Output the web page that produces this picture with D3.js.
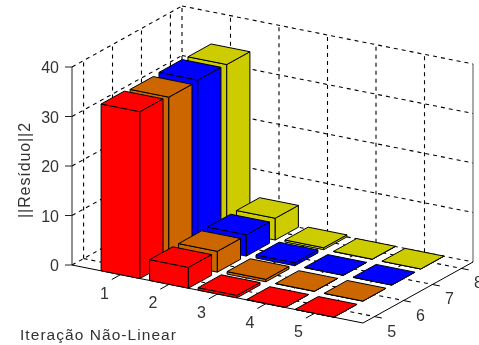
<!DOCTYPE html>
<html>
<head>
<meta charset="utf-8">
<script src="https://cdn.jsdelivr.net/npm/d3@7"></script>
<style>
  html, body { margin: 0; padding: 0; background: #fff; overflow: hidden; }
  svg { filter: blur(0.35px); }
  text { font-family: "Liberation Sans", Arial, sans-serif; fill: #333; }
</style>
</head>
<body>
<div id="chart"></div>
<script>
let iteracoes = [1, 2, 3, 4, 5];
let colunas = [5, 6, 7, 8];
let zTicks = [0, 10, 20, 30, 40];

// one series per row of bars
let serie5 = [33.7, 4.2, 0.5, 0.05, 0.02];
let serie6 = [33.4, 4.2, 0.5, 0.05, 0.02];
let serie7 = [33.6, 4.3, 0.6, 0.05, 0.02];
let serie8 = [33.5, 4.4, 0.4, 0.05, 0.02];
let series = [serie5, serie6, serie7, serie8];
let cores = ['#ff0000', '#cc6600', '#0000ff', '#cccc00'];

let width = 479;
let height = 345;
let barWidth = 0.8;

// oblique view: each data axis adds its own screen offset
let xDomain = [0, 6];
let yDomain = [4.6, 8.4];
let zDomain = [0, 40];

let xToLeft = d3.scaleLinear().domain(xDomain).range([0, 291]);
let xToTop = d3.scaleLinear().domain(xDomain).range([0, 58]);
let yToLeft = d3.scaleLinear().domain(yDomain).range([0, 110]);
let yToTop = d3.scaleLinear().domain(yDomain).range([0, -61]);
let zToTop = d3.scaleLinear().domain(zDomain).range([0, -198]);

let project = (x, y, z) => [
  72 + xToLeft(x) + yToLeft(y),
  265 + xToTop(x) + yToTop(y) + zToTop(z)
];

let path = d3.line();

const svg = d3.select('#chart').append('svg')
  .attr('width', width)
  .attr('height', height);

let seg = (g, a, b, dashed, color) => g.append('path')
  .attr('d', path([project(...a), project(...b)]))
  .attr('fill', 'none')
  .attr('stroke', color || '#000')
  .attr('stroke-width', dashed ? 1.1 : 1)
  .attr('stroke-dasharray', dashed ? '4,4' : null);

// grid on the floor and the two walls
let grid = svg.append('g');
let [x0, x1] = xDomain;
let [y0, y1] = yDomain;
let zTop = zDomain[1];

zTicks.forEach(z => {
  seg(grid, [x0, y0, z], [x0, y1, z], true);
  seg(grid, [x0, y1, z], [x1, y1, z], true);
});
colunas.forEach(y => {
  seg(grid, [x0, y, 0], [x0, y, zTop], true);
  seg(grid, [x0, y, 0], [x1, y, 0], true);
});
iteracoes.forEach(x => {
  seg(grid, [x, y1, 0], [x, y1, zTop], true);
  seg(grid, [x, y0, 0], [x, y1, 0], true);
});
seg(grid, [x0, y1, 0], [x0, y1, zTop], true);
seg(grid, [x1, y1, 0], [x1, y1, zTop], false, '#555');

// axes
let axes = svg.append('g');
seg(axes, [x0, y0, 0], [x0, y0, zTop], false, '#222');
seg(axes, [x0, y0, 0], [x1, y0, 0], false);
seg(axes, [x1, y0, 0], [x1, y1, 0], false);

zTicks.forEach(z => {
  let [px, py] = project(x0, y0, z);
  axes.append('line')
    .attr('x1', px - 7).attr('x2', px)
    .attr('y1', py).attr('y2', py)
    .attr('stroke', '#222');
  axes.append('text')
    .attr('x', px - 13)
    .attr('y', py + 6)
    .attr('text-anchor', 'end')
    .attr('font-size', 16)
    .text(z);
});

iteracoes.forEach(x => {
  seg(axes, [x, y0, 0], [x, y0 - 0.3, 0], false);
  let [px, py] = project(x, y0, 0);
  axes.append('text')
    .attr('x', px - 16)
    .attr('y', py + 24)
    .attr('text-anchor', 'middle')
    .attr('font-size', 16)
    .text(x);
});

colunas.forEach(y => {
  seg(axes, [x1, y, 0], [x1 + 0.15, y, 0], false);
  let [px, py] = project(x1, y, 0);
  axes.append('text')
    .attr('x', px + 17)
    .attr('y', py + 20)
    .attr('text-anchor', 'middle')
    .attr('font-size', 16)
    .text(y);
});

// bars, back row first and left to right so nearer ones paint over
let bars = svg.append('g')
  .attr('stroke', '#000')
  .attr('stroke-width', 1)
  .attr('stroke-linejoin', 'round');

let drawBar = (x, y, z, color) => {
  let h = barWidth / 2;
  let xa = x - h, xb = x + h, ya = y - h, yb = y + h;
  let faces = [
    [[xa, ya, 0], [xb, ya, 0], [xb, ya, z], [xa, ya, z]],
    [[xb, ya, 0], [xb, yb, 0], [xb, yb, z], [xb, ya, z]],
    [[xa, ya, z], [xb, ya, z], [xb, yb, z], [xa, yb, z]]
  ];
  faces.forEach(f => {
    bars.append('path')
      .attr('d', path(f.map(p => project(...p))) + 'Z')
      .attr('fill', color);
  });
};

d3.range(colunas.length - 1, -1, -1).forEach(j => {
  iteracoes.forEach((x, i) => {
    drawBar(x, colunas[j], series[j][i], cores[j]);
  });
});

// axis titles
svg.append('text')
  .attr('x', 20)
  .attr('y', 340)
  .attr('font-size', 15.5)
  .attr('letter-spacing', 1.05)
  .text('Iteração Não-Linear');

svg.append('text')
  .attr('transform', 'translate(30, 170) rotate(-90)')
  .attr('text-anchor', 'middle')
  .attr('font-size', 16)
  .attr('letter-spacing', 0.9)
  .text('||Resíduo||2');
</script>
</body>
</html>
